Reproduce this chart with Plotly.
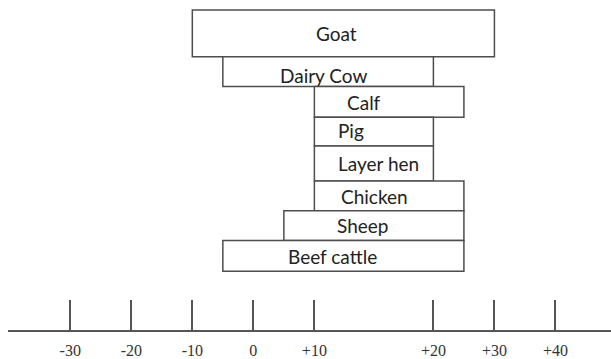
import plotly.graph_objects as go

# Livestock categories with the low / high end of each range
animals = ["Goat", "Dairy Cow", "Calf", "Pig", "Layer hen", "Chicken", "Sheep", "Beef cattle"]
range_low = [-10, -5, 10, 10, 10, 10, 5, -5]
range_high = [30, 20, 25, 20, 20, 25, 25, 25]

tick_values = [-30, -20, -10, 0, 10, 20, 30, 40]
tick_labels = ["-30", "-20", "-10", "0", "+10", "+20", "+30", "+40"]

# Styling: row thickness (axis units), label nudges (px)
row_thickness = [47, 30, 31, 29, 35, 30, 30, 31]
label_xshift = [-7, -5, -25, -23, 5, -15, -11, -11]
label_yshift = [0, -4, -1, 1, 0, -1, 0, -1]


def axis_pos(v):
    """Scale position; the +10..+20 interval is drawn stretched."""
    stretch = 1.95
    if v <= 10:
        return v
    if v <= 20:
        return 10 + (v - 10) * stretch
    return 10 + 10 * stretch + (v - 20)


row_centers = []
acc = 0
for t in row_thickness:
    row_centers.append(acc + t / 2)
    acc += t

bases = [axis_pos(lo) for lo in range_low]
lengths = [axis_pos(hi) - axis_pos(lo) for lo, hi in zip(range_low, range_high)]

fig = go.Figure()
fig.add_trace(go.Bar(
    orientation="h",
    y=row_centers,
    x=lengths,
    base=bases,
    width=row_thickness,
    marker=dict(color="white", line=dict(color="#4d4d4d", width=1.5)),
    hoverinfo="skip",
    showlegend=False,
))

for name, lo, hi, yc, dx, dy in zip(animals, range_low, range_high, row_centers,
                                     label_xshift, label_yshift):
    fig.add_annotation(
        x=(axis_pos(lo) + axis_pos(hi)) / 2, y=yc, text=name,
        showarrow=False, xshift=dx, yshift=dy,
        font=dict(family="Lato", size=19, color="#222222"),
    )

fig.update_layout(
    width=611, height=359,
    margin=dict(l=8, r=0, t=0, b=27),
    plot_bgcolor="white", paper_bgcolor="white",
    xaxis=dict(
        range=[-40.2, 58.6],
        tickvals=[axis_pos(v) for v in tick_values],
        ticktext=tick_labels,
        ticks="inside", ticklen=30, tickwidth=1.5, tickcolor="#555555",
        showline=True, linecolor="#555555", linewidth=1.5,
        showgrid=False, zeroline=False,
        tickfont=dict(family="Liberation Serif", size=16, color="#333333"),
        ticklabelstandoff=5,
    ),
    yaxis=dict(range=[322, -10], visible=False),
)

fig.write_html("out.html")
